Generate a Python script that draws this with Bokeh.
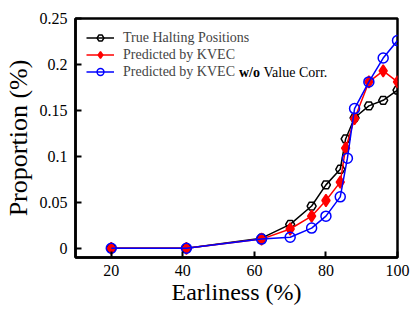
from bokeh.plotting import figure
from bokeh.models import FixedTicker, Legend, LegendItem, Label, Range1d
from bokeh.embed import file_html
from bokeh.resources import INLINE

# ---- data ----
x_true = [20, 41, 62, 70, 76, 80, 84, 85.5, 88, 92, 96, 100]
y_true = [0.0, 0.0, 0.011, 0.026, 0.046, 0.069, 0.086, 0.119, 0.142, 0.155, 0.161, 0.172]

x_kvec = [20, 41, 62, 70, 76, 80, 84, 85.5, 88, 92, 96, 100]
y_kvec = [0.0, 0.0, 0.010, 0.021, 0.035, 0.052, 0.072, 0.109, 0.141, 0.181, 0.193, 0.181]

x_novc = [20, 41, 62, 70, 76, 80, 84, 86, 88, 92, 96, 100]
y_novc = [0.0, 0.0, 0.010, 0.012, 0.022, 0.035, 0.056, 0.098, 0.152, 0.181, 0.207, 0.226]

x_ticks = [20, 40, 60, 80, 100]
y_ticks = [0, 0.05, 0.1, 0.15, 0.2, 0.25]
y_tick_labels = ["0", "0.05", "0.1", "0.15", "0.2", "0.25"]

FONT = "Liberation Serif"
X0, X1 = 10, 100
Y0, Y1 = -0.01, 0.25
FW, FH = 322, 239
BL, BR, BT, BB = 72, 21, 18, 55

p = figure(frame_width=FW, frame_height=FH, output_backend="svg", toolbar_location=None,
           x_range=Range1d(X0, X1), y_range=Range1d(Y0, Y1),
           min_border_left=BL, min_border_right=BR, min_border_top=BT, min_border_bottom=BB)
p.grid.visible = False
p.outline_line_color = "black"
p.outline_line_width = 2.5
p.background_fill_color = "white"
p.border_fill_color = "white"

for ax in (p.xaxis[0], p.yaxis[0]):
    ax.axis_line_width = 2.5
    ax.axis_line_color = "black"
    ax.major_tick_in = 6
    ax.major_tick_out = 0
    ax.major_tick_line_width = 2
    ax.minor_tick_line_color = None
    ax.major_label_text_font = FONT
    ax.major_label_text_font_size = "16px"
    ax.major_label_text_color = "black"
    ax.axis_label_text_font = FONT
    ax.axis_label_text_font_style = "normal"
    ax.axis_label_text_color = "black"

p.xaxis.ticker = FixedTicker(ticks=x_ticks)
p.yaxis.ticker = FixedTicker(ticks=y_ticks)
p.yaxis.major_label_overrides = {t: l for t, l in zip(y_ticks, y_tick_labels)}
p.xaxis.axis_label = "Earliness (%)"
p.yaxis.axis_label = "Proportion (%)"
p.xaxis.axis_label_text_font_size = "24px"
p.yaxis.axis_label_text_font_size = "26px"
p.xaxis.major_label_standoff = 7
p.yaxis.major_label_standoff = 8
p.xaxis.axis_label_standoff = 0
p.yaxis.axis_label_standoff = 4

# series
l1 = p.line(x_true, y_true, line_color="black", line_width=1.5)
m1 = p.scatter(x_true, y_true, marker="hex", size=9, fill_color=None,
               line_color="black", line_width=1.5)
l2 = p.line(x_kvec, y_kvec, line_color="red", line_width=1.5)
m2 = p.scatter(x_kvec, y_kvec, marker="diamond", size=12, fill_color="red",
               line_color="red", line_width=1.5)
l3 = p.line(x_novc, y_novc, line_color="blue", line_width=1.5)
m3 = p.scatter(x_novc, y_novc, marker="circle", size=10, fill_color=None,
               line_color="blue", line_width=1.5)

MARG, GW, STAND, ROWH = 11, 28, 9, 17
legend = Legend(items=[
    LegendItem(label="True Halting Positions", renderers=[l1, m1]),
    LegendItem(label="Predicted by KVEC", renderers=[l2, m2]),
    LegendItem(label="Predicted by KVEC", renderers=[l3, m3]),
], location="top_left", margin=MARG, padding=0, spacing=0,
    glyph_width=GW, glyph_height=ROWH, label_height=ROWH, label_standoff=STAND,
    label_text_font=FONT, label_text_font_size="14px",
    border_line_color=None, background_fill_alpha=0)
p.add_layout(legend)

# remainder of third legend label (bold "w/o")
def dx(px):
    return X0 + px / FW * (X1 - X0)
def dy(px):
    return Y1 - px / FH * (Y1 - Y0)
text_start = MARG + GW + STAND
row3_y = MARG + 2 * ROWH + ROWH / 2
wo_x = text_start + 8.0 * 14 + 3.5
vc_x = wo_x + 1.5 * 14 + 3.5
p.add_layout(Label(x=dx(wo_x), y=dy(row3_y), text="w/o", text_font=FONT,
                   text_font_size="14px", text_font_style="bold",
                   text_baseline="middle", text_color="black"))
p.add_layout(Label(x=dx(vc_x), y=dy(row3_y), text="Value Corr.", text_font=FONT,
                   text_font_size="14px", text_baseline="middle", text_color="black"))

open("out.html", "w").write(file_html(p, INLINE))
